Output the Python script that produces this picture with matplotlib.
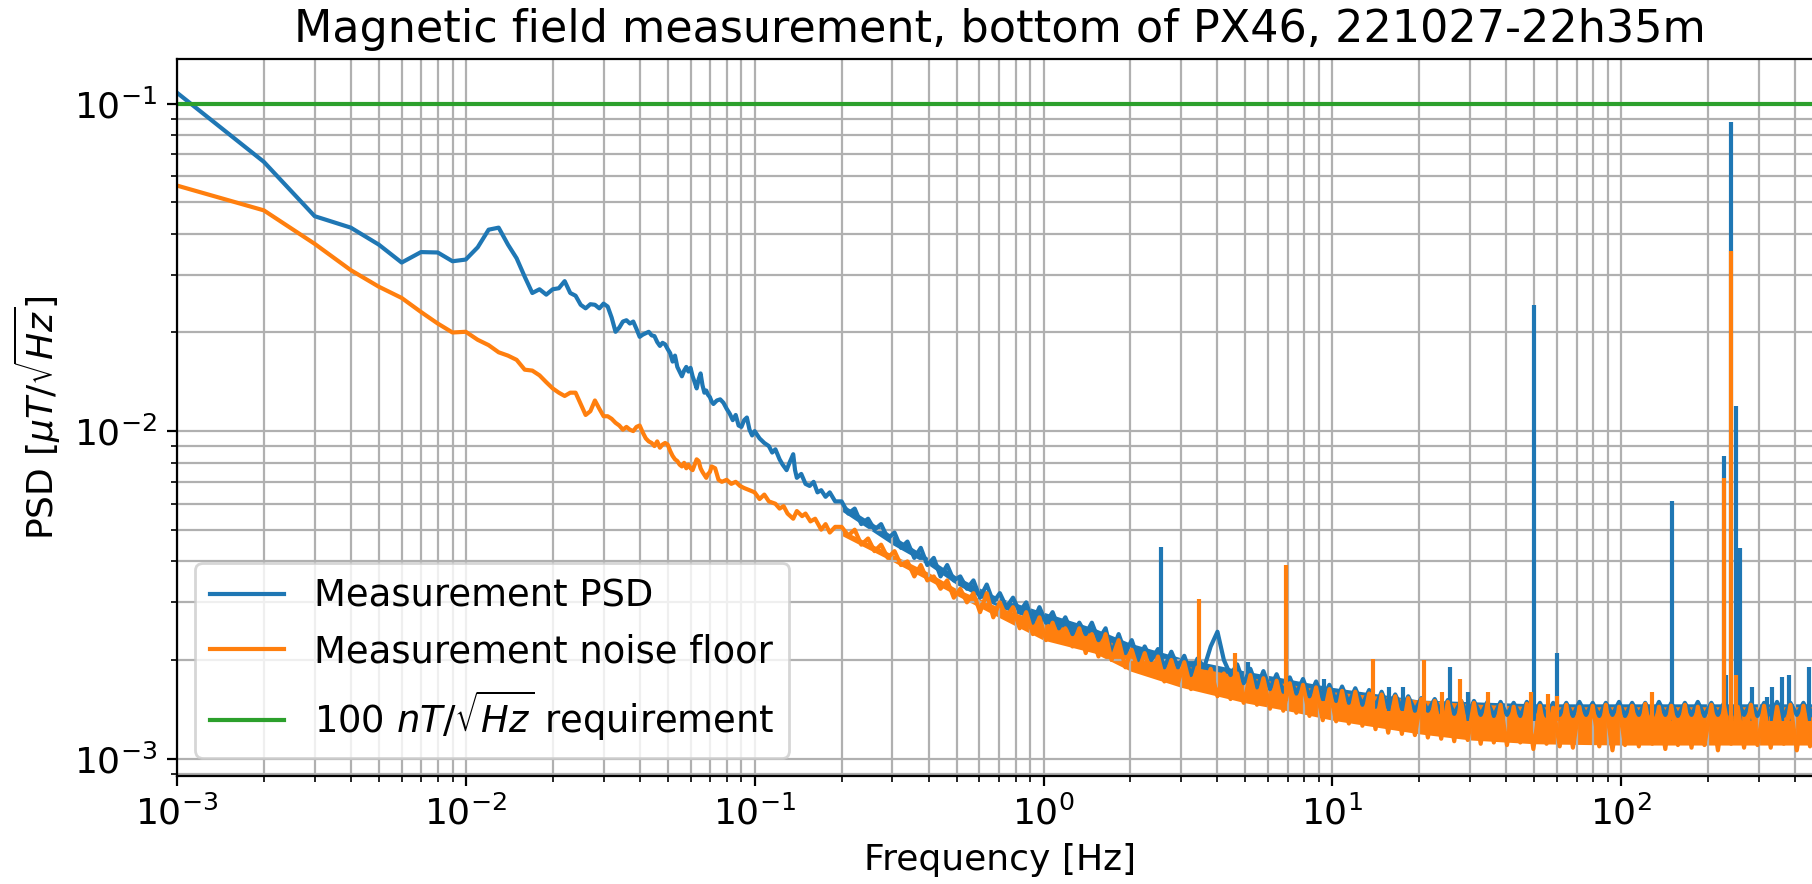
import matplotlib
matplotlib.use("Agg")
import matplotlib.pyplot as plt

# ---- low frequency part (clean line) ----
psd_f = [1e-3, 2e-3, 3e-3, 4e-3, 5e-3, 6e-3, 7e-3, 8e-3, 9e-3, 1.0e-2,
         1.1e-2, 1.2e-2, 1.3e-2, 1.4e-2, 1.5e-2, 1.6e-2, 1.7e-2, 1.8e-2, 1.9e-2, 2.0e-2,
         2.1e-2, 2.2e-2, 2.3e-2, 2.4e-2, 2.5e-2, 2.6e-2, 2.7e-2, 2.8e-2, 2.9e-2, 3.0e-2,
         3.1e-2, 3.2e-2, 3.3e-2, 3.4e-2, 3.5e-2, 3.6e-2, 3.7e-2, 3.8e-2, 3.9e-2, 4.0e-2,
         4.1e-2, 4.2e-2, 4.3e-2, 4.4e-2, 4.5e-2, 4.6e-2, 4.7e-2, 4.8e-2, 4.9e-2, 5.0e-2,
         5.1e-2, 5.2e-2, 5.3e-2, 5.4e-2, 5.5e-2, 5.6e-2, 5.7e-2, 5.8e-2, 5.9e-2, 6.0e-2,
         6.1e-2, 6.2e-2, 6.3e-2, 6.4e-2, 6.5e-2, 6.6e-2, 6.7e-2, 6.8e-2, 6.9e-2, 7.0e-2,
         7.1e-2, 7.2e-2, 7.4e-2, 7.6e-2, 7.8e-2, 8.0e-2, 8.2e-2, 8.4e-2, 8.6e-2, 8.8e-2,
         9.0e-2, 9.2e-2, 9.4e-2, 9.6e-2, 9.8e-2, 0.100, 0.104, 0.108, 0.112, 0.115,
         0.118, 0.122, 0.125, 0.129, 0.132, 0.136, 0.138, 0.140, 0.145, 0.150,
         0.155, 0.160, 0.165, 0.170, 0.176, 0.182, 0.190]
psd_v = [0.108, 0.0664, 0.0453, 0.0418, 0.0371, 0.0327, 0.0352, 0.0351, 0.0330, 0.0334,
         0.0364, 0.0412, 0.0418, 0.0371, 0.0337, 0.0296, 0.0264, 0.0271, 0.0261, 0.0271,
         0.0273, 0.0287, 0.0264, 0.0259, 0.0243, 0.0237, 0.0244, 0.0243, 0.0237, 0.0245,
         0.0240, 0.0222, 0.0201, 0.0207, 0.0216, 0.0218, 0.0213, 0.0216, 0.0205, 0.0194,
         0.0197, 0.0199, 0.0201, 0.0196, 0.0195, 0.0187, 0.0182, 0.0186, 0.0184, 0.0178,
         0.0173, 0.0163, 0.0170, 0.0157, 0.0152, 0.0147, 0.0153, 0.0157, 0.0152, 0.0156,
         0.0147, 0.0141, 0.0135, 0.0144, 0.0150, 0.0138, 0.0131, 0.0133, 0.0129, 0.0127,
         0.0123, 0.0121, 0.0124, 0.0125, 0.0122, 0.0117, 0.0113, 0.0108, 0.0112, 0.0104,
         0.0103, 0.0108, 0.0110, 0.0101, 0.0097, 0.0100, 0.0095, 0.0092, 0.0090, 0.0086,
         0.0088, 0.0082, 0.0079, 0.0076, 0.0080, 0.0085, 0.0076, 0.0072, 0.0074, 0.0069,
         0.0068, 0.0070, 0.0065, 0.0066, 0.0063, 0.0065, 0.0061]

noise_f = [1e-3, 2e-3, 3e-3, 4e-3, 5e-3, 6e-3, 7e-3, 8e-3, 9e-3, 1.0e-2,
           1.1e-2, 1.2e-2, 1.3e-2, 1.4e-2, 1.5e-2, 1.6e-2, 1.7e-2, 1.8e-2, 1.9e-2, 2.0e-2,
           2.1e-2, 2.2e-2, 2.3e-2, 2.4e-2, 2.5e-2, 2.6e-2, 2.7e-2, 2.8e-2, 2.9e-2, 3.0e-2,
           3.1e-2, 3.2e-2, 3.3e-2, 3.4e-2, 3.5e-2, 3.6e-2, 3.7e-2, 3.8e-2, 3.9e-2, 4.0e-2,
           4.1e-2, 4.2e-2, 4.3e-2, 4.4e-2, 4.5e-2, 4.6e-2, 4.7e-2, 4.8e-2, 4.9e-2, 5.0e-2,
           5.1e-2, 5.2e-2, 5.3e-2, 5.4e-2, 5.5e-2, 5.6e-2, 5.7e-2, 5.8e-2, 5.9e-2, 6.0e-2,
           6.1e-2, 6.2e-2, 6.3e-2, 6.4e-2, 6.5e-2, 6.6e-2, 6.8e-2, 6.9e-2, 7.0e-2, 7.1e-2,
           7.3e-2, 7.5e-2, 7.7e-2, 8.0e-2, 8.3e-2, 8.6e-2, 8.9e-2, 9.2e-2, 9.6e-2, 0.100,
           0.104, 0.108, 0.112, 0.118, 0.122, 0.126, 0.130, 0.136, 0.140, 0.146,
           0.150, 0.156, 0.162, 0.170, 0.176, 0.182, 0.190]
noise_v = [0.0562, 0.0472, 0.0373, 0.0310, 0.0276, 0.0255, 0.0231, 0.0213, 0.0200, 0.0201,
           0.0190, 0.0183, 0.0174, 0.0170, 0.0165, 0.0154, 0.0153, 0.0148, 0.0141, 0.0135,
           0.0131, 0.0128, 0.0131, 0.0131, 0.0121, 0.0112, 0.0115, 0.0124, 0.0117, 0.0111,
           0.0111, 0.0109, 0.0106, 0.0104, 0.0101, 0.0103, 0.0101, 0.0100, 0.0103, 0.0104,
           0.0099, 0.0095, 0.0093, 0.0092, 0.0090, 0.0093, 0.0089, 0.0091, 0.0092, 0.0091,
           0.0087, 0.0084, 0.0082, 0.0081, 0.0079, 0.0078, 0.0080, 0.0077, 0.0079, 0.0077,
           0.0076, 0.0079, 0.0082, 0.0081, 0.0077, 0.0075, 0.0072, 0.0074, 0.0075, 0.0078,
           0.0077, 0.0071, 0.0070, 0.0071, 0.0069, 0.0070, 0.0068, 0.0067, 0.0066, 0.0065,
           0.0062, 0.0064, 0.0061, 0.0060, 0.0058, 0.0059, 0.0056, 0.0054, 0.0057, 0.0055,
           0.0056, 0.0053, 0.0054, 0.0050, 0.0052, 0.0049, 0.0051]

# ---- noisy part (0.2 Hz .. 500 Hz): jagged traces ----
band_f = [0.2, 0.211, 0.222, 0.234, 0.247, 0.26, 0.274, 0.289, 0.305, 0.321,
          0.338, 0.357, 0.376, 0.396, 0.417, 0.44, 0.464, 0.489, 0.515, 0.543,
          0.572, 0.603, 0.636, 0.67, 0.706, 0.744, 0.784, 0.827, 0.871, 0.918,
          0.968, 1.02, 1.075, 1.13, 1.19, 1.26, 1.33, 1.4, 1.47, 1.55,
          1.64, 1.72, 1.82, 1.92, 2.02, 2.13, 2.24, 2.36, 2.49, 2.62,
          2.77, 2.92, 3.07, 3.24, 3.41, 3.6, 3.79, 4.0, 4.21, 4.44,
          4.68, 4.93, 5.2, 5.48, 5.77, 6.08, 6.41, 6.76, 7.12, 7.5,
          7.91, 8.33, 8.78, 9.26, 9.76, 10.3, 10.8, 11.4, 12.0, 12.7,
          13.4, 14.1, 14.8, 15.6, 16.5, 17.4, 18.3, 19.3, 20.3, 21.4,
          22.6, 23.8, 25.1, 26.4, 27.9, 29.4, 30.9, 32.6, 34.4, 36.2,
          38.2, 40.2, 42.4, 44.7, 47.1, 49.6, 52.3, 55.1, 58.1, 61.2,
          64.5, 68.0, 71.6, 75.5, 79.6, 83.9, 88.4, 93.2, 98.2, 103,
          109, 115, 121, 128, 135, 142, 149, 157, 166, 175,
          184, 194, 205, 216, 227, 240, 253, 266, 281, 296,
          312, 329, 346, 365, 385, 405, 427, 450, 475, 500]

psd_band_v = [0.0061, 0.0056, 0.0058, 0.0052, 0.0054, 0.0050, 0.0052, 0.0047, 0.0049, 0.0044,
              0.0046, 0.0041, 0.0044, 0.0039, 0.0041, 0.0036, 0.0039, 0.0035, 0.0036, 0.0033,
              0.0035, 0.0031, 0.0034, 0.0030, 0.0032, 0.0029, 0.0031, 0.0028, 0.0030, 0.0026,
              0.0029, 0.0026, 0.0028, 0.0025, 0.0027, 0.0024, 0.0026, 0.0024, 0.0026, 0.0023,
              0.0025, 0.0021, 0.0024, 0.0021, 0.0023, 0.0020, 0.0022, 0.0020, 0.00216, 0.0019,
              0.00212, 0.0019, 0.00206, 0.0018, 0.00202, 0.0019, 0.0022, 0.00244, 0.0020, 0.0018,
              0.00194, 0.0017, 0.00188, 0.00165, 0.00185, 0.00163, 0.00181, 0.0016, 0.00177, 0.00158,
              0.00175, 0.00155, 0.00172, 0.00152, 0.00168, 0.0015, 0.00166, 0.00148, 0.00164, 0.00146,
              0.00162, 0.00144, 0.0016, 0.00143, 0.00157, 0.00142, 0.00155, 0.0014, 0.00153, 0.0014,
              0.00152, 0.00138, 0.00151, 0.00137, 0.0015, 0.00136, 0.0015, 0.00136, 0.00149, 0.00135,
              0.00149, 0.00136, 0.00148, 0.00135, 0.00149, 0.00136, 0.00148, 0.00135, 0.00148, 0.00136,
              0.00148, 0.00135, 0.00149, 0.00136, 0.00148, 0.00135, 0.00148, 0.00136, 0.00149, 0.00135,
              0.00148, 0.00136, 0.00148, 0.00135, 0.00149, 0.00136, 0.00148, 0.00135, 0.00148, 0.00136,
              0.00149, 0.00135, 0.00148, 0.00136, 0.00148, 0.00135, 0.00149, 0.00136, 0.00148, 0.00135,
              0.00148, 0.00136, 0.00149, 0.00135, 0.00148, 0.00136, 0.00148, 0.00135, 0.00149, 0.00136]

noise_band_v = [0.0051, 0.0048, 0.0050, 0.0045, 0.0047, 0.0043, 0.0045, 0.0041, 0.0043, 0.0039,
                0.0040, 0.0036, 0.0039, 0.0035, 0.0036, 0.0033, 0.0035, 0.0031, 0.0033, 0.0030,
                0.0032, 0.0028, 0.0032, 0.0027, 0.0030, 0.0027, 0.0029, 0.0025, 0.0028, 0.0024,
                0.0027, 0.0023, 0.0026, 0.0023, 0.0025, 0.0022, 0.0025, 0.0021, 0.0024, 0.00205,
                0.0024, 0.0020, 0.0023, 0.0019, 0.00215, 0.00185, 0.0021, 0.0018, 0.00205, 0.00172,
                0.0020, 0.0017, 0.00197, 0.00163, 0.0019, 0.00162, 0.00188, 0.00155, 0.00182, 0.00152,
                0.00182, 0.00148, 0.0018, 0.00146, 0.00176, 0.00142, 0.00173, 0.0014, 0.0017, 0.00138,
                0.00168, 0.00135, 0.00165, 0.00131, 0.00163, 0.0013, 0.00161, 0.00128, 0.0016, 0.00126,
                0.00158, 0.00123, 0.00157, 0.0012, 0.00155, 0.00119, 0.00153, 0.00118, 0.00152, 0.00116,
                0.0015, 0.00115, 0.00149, 0.00113, 0.0015, 0.00114, 0.00148, 0.00111, 0.00147, 0.00112,
                0.00146, 0.0011, 0.00144, 0.00112, 0.00147, 0.00107, 0.00145, 0.00111, 0.00143, 0.00109,
                0.00146, 0.00108, 0.00144, 0.00112, 0.00145, 0.00109, 0.00146, 0.00106, 0.00144, 0.0011,
                0.00145, 0.00109, 0.00147, 0.00111, 0.00144, 0.00107, 0.00145, 0.0011, 0.00146, 0.00108,
                0.00144, 0.0011, 0.00146, 0.00106, 0.00145, 0.00111, 0.00144, 0.00108, 0.00146, 0.0011,
                0.00145, 0.00108, 0.00144, 0.00111, 0.00146, 0.00106, 0.00145, 0.00109, 0.00144, 0.0011]

# inner body of each band (keeps the jagged trace filled)
psd_core_f = [0.2, 0.3, 0.4, 0.5, 0.7, 1.0, 1.5, 2.0, 3.0, 5.0, 10, 20, 50, 500]
psd_core_lo = [0.0057, 0.0045, 0.0039, 0.0034, 0.0029, 0.0026, 0.0023, 0.0021, 0.0019,
               0.0017, 0.0015, 0.0014, 0.00136, 0.00136]
psd_core_hi = [0.0060, 0.0048, 0.0041, 0.0036, 0.0031, 0.0028, 0.0025, 0.00225, 0.00203,
               0.00185, 0.00165, 0.00151, 0.00147, 0.00147]

noise_core_f = [0.2, 0.3, 0.4, 0.5, 0.7, 1.0, 1.5, 2.0, 3.0, 5.0, 7.0, 10, 20, 30, 50,
                100, 200, 500]
noise_core_lo = [0.0048, 0.0040, 0.0035, 0.00315, 0.0027, 0.0023, 0.0021, 0.00185, 0.00165,
                 0.00148, 0.0014, 0.00131, 0.00119, 0.00114, 0.00111, 0.0011, 0.0011, 0.0011]
noise_core_hi = [0.0050, 0.0042, 0.0037, 0.0033, 0.0029, 0.0026, 0.0024, 0.00212, 0.00193,
                 0.00178, 0.00169, 0.0016, 0.00151, 0.00147, 0.00144, 0.00144, 0.00144, 0.00144]

# ---- narrow lines (spikes): frequency, peak, base level ----
psd_spike_f = [2.56, 5.1, 9.35, 15.7, 17.6, 25.5, 29.5, 50, 60, 150, 226, 230, 240, 250,
               257, 283, 319, 333, 361, 381, 445]
psd_spike_v = [0.00443, 0.00197, 0.00175, 0.00166, 0.00166, 0.0019, 0.0016, 0.0243, 0.0021,
               0.0061, 0.0084, 0.0018, 0.088, 0.0119, 0.0044, 0.00165, 0.00154, 0.00165,
               0.00178, 0.0018, 0.0019]
psd_spike_base = [0.0021, 0.0017, 0.0015, 0.0014, 0.0014, 0.0014, 0.0013, 0.0013, 0.0013,
                  0.0013, 0.0013, 0.0013, 0.0013, 0.0013, 0.0013, 0.0013, 0.0013, 0.0013,
                  0.0013, 0.0013, 0.0013]

noise_spike_f = [3.46, 4.6, 6.9, 13.8, 20.7, 24, 27.7, 34.5, 48.6, 55.6, 60, 128, 226,
                 240, 250]
noise_spike_v = [0.00308, 0.0021, 0.00389, 0.00202, 0.0020, 0.0016, 0.00175, 0.0016,
                 0.0016, 0.00158, 0.00155, 0.0016, 0.0072, 0.0354, 0.0018]
noise_spike_base = [0.0018, 0.0016, 0.0015, 0.0014, 0.0013, 0.0013, 0.0013, 0.0013,
                    0.0013, 0.0013, 0.0013, 0.0013, 0.0013, 0.0013, 0.0013]

requirement = 0.1  # 100 nT/sqrt(Hz) in uT/sqrt(Hz)

fig = plt.figure(figsize=(9.06, 4.42), dpi=200)
ax = fig.add_axes([0.0976, 0.122, 0.9086, 0.8115])

blue, orange, green = 'tab:blue', 'tab:orange', 'tab:green'

# measurement
ax.fill_between(psd_core_f, psd_core_lo, psd_core_hi, color=blue, lw=0)
ax.loglog(psd_f + band_f, psd_v + psd_band_v, color=blue, label='Measurement PSD')
ax.vlines(psd_spike_f, psd_spike_base, psd_spike_v, color=blue, lw=1.5)

# noise floor
ax.fill_between(noise_core_f, noise_core_lo, noise_core_hi, color=orange, lw=0)
ax.loglog(noise_f + band_f, noise_v + noise_band_v, color=orange,
          label='Measurement noise floor')
ax.vlines(noise_spike_f, noise_spike_base, noise_spike_v, color=orange, lw=1.5)

ax.axhline(requirement, color=green, label=r'100 $nT/\sqrt{Hz}$ requirement')

ax.set_xlim(1e-3, 500)
ax.set_ylim(0.000884, 0.137)
ax.grid(True, which='both')
ax.tick_params(labelsize=13)
ax.set_xlabel('Frequency [Hz]', fontsize=13)
ax.set_ylabel(r'PSD [$\mu T/\sqrt{Hz}$]', fontsize=13)
ax.set_title('Magnetic field measurement, bottom of PX46, 221027-22h35m', fontsize=16)
ax.legend(loc='lower left', fontsize=13.3)

fig.savefig('out.png', dpi=200)
